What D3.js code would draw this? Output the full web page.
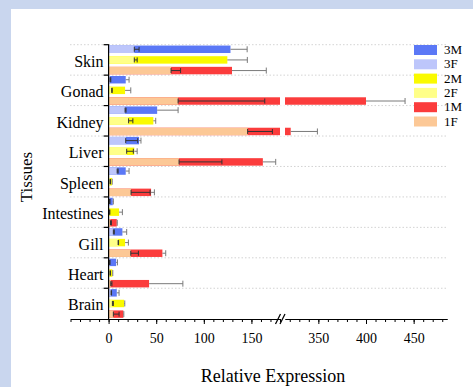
<!DOCTYPE html>
<html>
<head>
<meta charset="utf-8">
<script src="https://cdn.jsdelivr.net/npm/d3@7.9.0/dist/d3.min.js"></script>
<style>
  body { margin: 0; }
  svg { display: block; font-family: "Liberation Serif", "Times New Roman", serif; }
</style>
</head>
<body>
<svg id="chart" width="473" height="387"></svg>
<script>
// tissues, top to bottom
const tissues = ["Skin", "Gonad", "Kidney", "Liver", "Spleen", "Intestines", "Gill", "Heart", "Brain"];

// row 3 (blue)
const m3 = [128, 18, 51, 32, 18, 4.4, 14.5, 7.9, 8.6];
const m3Err = [17.5, 3.5, 22, 2, 3.5, 0.6, 4.5, 1.4, 2.4];
const f3 = [27, 1.5, 17.3, 18, 9, 1, 5, 1, 2.6];
const f3Err = [5, 0.8, 1, 12.6, 1, 0.5, 1, 0.5, 0.5];

// row 2 (yellow)
const m2 = [124.7, 17.3, 47, 27, 3.5, 11, 17.3, 4, 16.3];
const m2Err = [21, 6, 2.5, 3, 0.3, 3.5, 3.5, 0.4, 0.7];
const f2 = [27, 3.3, 21, 19, 1.5, 1, 10, 1.5, 4];
const f2Err = [3, 0.5, 4.5, 7, 0.5, 0.3, 0.5, 0.5, 1];

// row 1 (red / orange)
const m1 = [129.6, 400, 321, 162, 44.6, 8.6, 56.5, 42.5, 15.5];
const m1Err = [36, 41, 28, 13.5, 3.5, 0.5, 3.5, 35.5, 0.5];
const f1 = [65.6, 73, 146, 74, 23.6, 2, 23.3, 2.3, 5];
const f1Err = [10, 91, 26, 45, 20, 1, 8, 1.2, 6];

const legendLabels = ["3M", "3F", "2M", "2F", "1M", "1F"];
const legendColors = ["#5b78f6", "#bdc6fb", "#fafa00", "#ffff88", "#fb3c3c", "#fcc896"];

const leftTicks = [0, 50, 100, 150];
const rightTicks = [350, 400, 450];

const svg = d3.select("#chart");

// background
svg.append("rect").attr("width", 473).attr("height", 387).attr("fill", "#c9d6ee");
svg.append("rect").attr("x", 11).attr("y", 9).attr("width", 462).attr("height", 378).attr("fill", "#ffffff");

// broken x scale
const xLeft = d3.scaleLinear().domain([-40, 180]).range([70.5, 280]);
const xRight = d3.scaleLinear().domain([315, 485]).range([285, 447]);
const breakLo = 180, breakHi = 315;
const x = v => v <= breakLo ? xLeft(v) : xRight(v);

const y = d3.scaleBand().domain(tissues).range([44.7, 318.7]);
const rows = d3.scaleBand().domain(["3", "2", "1"]).range([0, y.bandwidth()])
  .paddingInner(0.3).paddingOuter(0.08);

const axisY = 319;

// dotted grid lines at group boundaries
svg.append("g").selectAll("line")
  .data(tissues)
  .join("line")
  .attr("x1", 70).attr("x2", 447)
  .attr("y1", d => y(d)).attr("y2", d => y(d))
  .attr("stroke", "#c8c8c8")
  .attr("stroke-width", 0.8)
  .attr("stroke-dasharray", "1.5,2");

// build row records
const rowDefs = [
  { key: "3", m: m3, mErr: m3Err, f: f3, fErr: f3Err, mc: legendColors[0], fc: legendColors[1] },
  { key: "2", m: m2, mErr: m2Err, f: f2, fErr: f2Err, mc: legendColors[2], fc: legendColors[3] },
  { key: "1", m: m1, mErr: m1Err, f: f1, fErr: f1Err, mc: legendColors[4], fc: legendColors[5] }
];
const recs = [];
tissues.forEach((t, i) => {
  rowDefs.forEach(r => {
    recs.push({ tissue: t, key: r.key, m: r.m[i], mErr: r.mErr[i], f: r.f[i], fErr: r.fErr[i], mc: r.mc, fc: r.fc });
  });
});

const bh = rows.bandwidth();
const rowTop = d => y(d.tissue) + rows(d.key);

// bar segments (split across the break)
function segments(v) {
  if (v <= breakLo) return [[0, v]];
  return [[0, breakLo], [breakHi, v]];
}

const bars = svg.append("g");
recs.forEach(d => {
  segments(d.m).forEach(([a, b]) => {
    bars.append("rect")
      .attr("x", x(a)).attr("y", rowTop(d))
      .attr("width", x(b) - x(a)).attr("height", bh)
      .attr("fill", d.mc);
  });
});

// male error bars (grey)
const errG = svg.append("g");
recs.forEach(d => {
  const cy = rowTop(d) + bh / 2;
  const x0 = x(d.m), x1 = x(d.m + d.mErr);
  errG.append("line").attr("x1", x0).attr("x2", x1).attr("y1", cy).attr("y2", cy)
    .attr("stroke", "#7a7a7a").attr("stroke-width", 1);
  errG.append("line").attr("x1", x1).attr("x2", x1).attr("y1", cy - 3).attr("y2", cy + 3)
    .attr("stroke", "#7a7a7a").attr("stroke-width", 1);
});

// female bars on top
recs.forEach(d => {
  segments(d.f).forEach(([a, b]) => {
    bars.append("rect")
      .attr("x", x(a)).attr("y", rowTop(d))
      .attr("width", x(b) - x(a)).attr("height", bh)
      .attr("fill", d.fc);
  });
});

// female error bars (dark)
recs.forEach(d => {
  const cy = rowTop(d) + bh / 2;
  const x0 = x(d.f), x1 = x(d.f + d.fErr);
  errG.append("line").attr("x1", x0).attr("x2", x1).attr("y1", cy).attr("y2", cy)
    .attr("stroke", "#333").attr("stroke-width", 1);
  [x0, x1].forEach(xx => {
    errG.append("line").attr("x1", xx).attr("x2", xx).attr("y1", cy - 2.5).attr("y2", cy + 2.5)
      .attr("stroke", "#333").attr("stroke-width", 1);
  });
});

// y axis
svg.append("line").attr("x1", x(0)).attr("x2", x(0)).attr("y1", 44.2).attr("y2", axisY)
  .attr("stroke", "#000").attr("stroke-width", 1.2);
svg.append("g").selectAll("line")
  .data(tissues)
  .join("line")
  .attr("x1", x(0) - 5).attr("x2", x(0))
  .attr("y1", d => y(d)).attr("y2", d => y(d))
  .attr("stroke", "#000").attr("stroke-width", 1.2);

svg.append("g").selectAll("text")
  .data(tissues)
  .join("text")
  .attr("x", 103.5)
  .attr("y", d => y(d) + y.bandwidth() / 2 + 7)
  .attr("text-anchor", "end")
  .attr("font-size", 16)
  .attr("fill", "#000")
  .text(d => d);

// x axis, two segments
function drawAxis(scale, minor, major) {
  const g = svg.append("g").attr("transform", `translate(0,${axisY})`);
  g.call(d3.axisBottom(scale).tickValues(minor).tickSize(3).tickSizeOuter(0).tickFormat(""));
  const g2 = svg.append("g").attr("transform", `translate(0,${axisY})`);
  g2.call(d3.axisBottom(scale).tickValues(major).tickSize(5).tickSizeOuter(0).tickPadding(9));
  [g, g2].forEach(gg => {
    gg.select(".domain").attr("stroke", "#000").attr("stroke-width", 1.2);
    gg.selectAll("line").attr("stroke", "#000").attr("stroke-width", 1);
  });
  g2.selectAll("text")
    .attr("font-family", "Liberation Serif, Times New Roman, serif")
    .attr("font-size", 14)
    .attr("fill", "#000");
}
drawAxis(xLeft, d3.range(-40, 181, 10), leftTicks);
drawAxis(xRight, d3.range(320, 481, 10), rightTicks);

// break marks
[275.5, 280].forEach(bx => {
  svg.append("line")
    .attr("x1", bx).attr("y1", axisY + 5).attr("x2", bx + 5).attr("y2", axisY - 5)
    .attr("stroke", "#000").attr("stroke-width", 1.3);
});

// white gap in broken bars
svg.append("g").selectAll("rect")
  .data(recs.filter(d => d.m > breakLo))
  .join("rect")
  .attr("x", x(breakLo)).attr("y", d => rowTop(d) - 1)
  .attr("width", xRight(breakHi) - x(breakLo)).attr("height", bh + 2)
  .attr("fill", "#fff");

// axis titles
svg.append("text")
  .attr("x", 273).attr("y", 382)
  .attr("text-anchor", "middle")
  .attr("font-size", 18)
  .text("Relative Expression");

svg.append("text")
  .attr("transform", "translate(32,177) rotate(-90)")
  .attr("text-anchor", "middle")
  .attr("font-size", 17)
  .text("Tissues");

// legend
const legend = svg.append("g");
legendLabels.forEach((lab, i) => {
  const ly = 45 + i * 14.3;
  legend.append("rect")
    .attr("x", 414).attr("y", ly).attr("width", 23).attr("height", 10)
    .attr("fill", legendColors[i]);
  legend.append("text")
    .attr("x", 444).attr("y", ly + 9)
    .attr("font-size", 13)
    .text(lab);
});
</script>
</body>
</html>
